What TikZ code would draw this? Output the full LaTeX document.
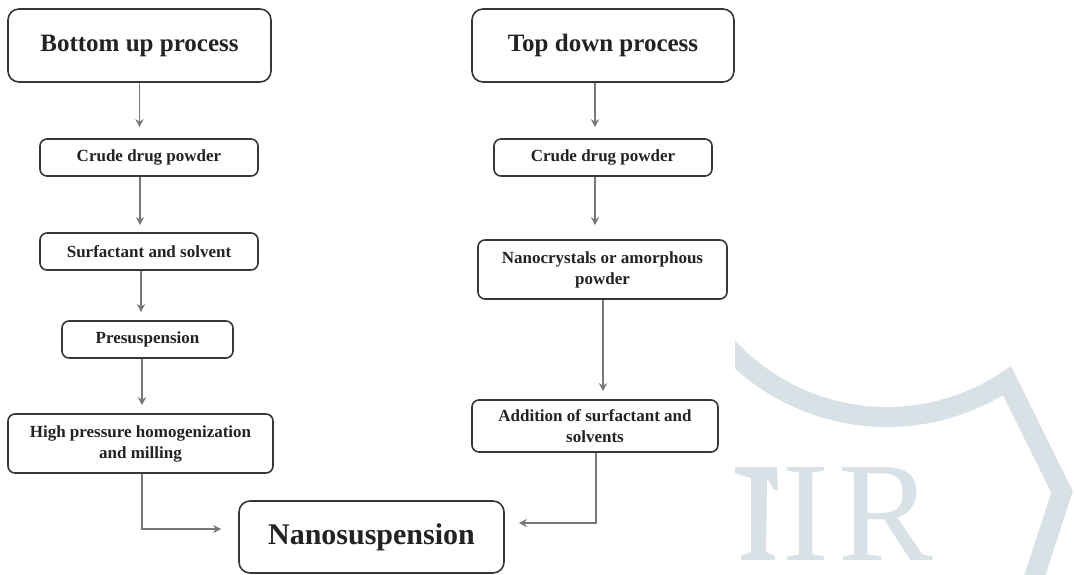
\documentclass[tikz,border=0pt]{standalone}
\usepackage{fontspec}
\setmainfont{Liberation Serif}
\usetikzlibrary{arrows.meta}
\definecolor{boxline}{RGB}{55,55,55}
\definecolor{arrline}{RGB}{120,120,120}
\definecolor{txt}{RGB}{35,35,35}
\definecolor{wm}{RGB}{216,225,229}
\begin{document}
\begin{tikzpicture}[x=1pt,y=-1pt,
  box/.style={draw=boxline, line width=1.6pt, rounded corners=7pt, fill=white, align=center,
    text=txt, inner sep=0pt, font=\bfseries\fontsize{17}{21}\selectfont},
  bigbox/.style={box, rounded corners=11pt, font=\bfseries\fontsize{25}{30}\selectfont},
  arr/.style={draw=arrline, line width=1.3pt, -{Stealth[length=8pt,width=8pt,inset=2.5pt]}},
  wmletter/.style={text=wm, inner sep=0pt, anchor=base, font=\fontsize{142}{142}\selectfont}
]
\useasboundingbox (0,0) rectangle (1074,574);
\fill[white] (0,0) rectangle (1074,574);
% watermark
\begin{scope}
\clip (735,270) rectangle (1074,574);
\draw[wm, line width=20pt, line join=miter]
  (887,200) ++(150:217) arc[start angle=150, end angle=56.4, radius=217]
  -- (1062,492) -- (1030,590);
\fill[wm] (715,467) -- (777,467) -- (778,490) -- (774,490) -- (767,478) -- (766,552)
  -- (775,556) -- (775,560) -- (741,560) -- (741,556) -- (751,552) -- (751,478) -- cycle;
\end{scope}
\node[wmletter] (wmi) at (806.5,560) {I};
\node[wmletter] (wmr) at (885.5,560) {R};
% left column
\node[bigbox, minimum width=263pt, minimum height=73pt] (bu) at (139.5,45.5) {Bottom up process};
\node[box, minimum width=218pt, minimum height=37pt] (cl) at (149,157.5) {Crude drug powder};
\node[box, minimum width=218pt, minimum height=37pt] (sl) at (149,251.5) {Surfactant and solvent};
\node[box, minimum width=171pt, minimum height=37pt] (ps) at (147.5,339.5) {Presuspension};
\node[box, minimum width=265pt, minimum height=59pt] (hp) at (140.5,443.5) {High pressure homogenization\\and milling};
% bottom
\node[bigbox, minimum width=265pt, minimum height=72pt, font=\bfseries\fontsize{30}{36}\selectfont] (ns) at (371.5,537) {Nanosuspension};
% right column
\node[bigbox, minimum width=262pt, minimum height=73pt] (td) at (603,45.5) {Top down process};
\node[box, minimum width=218pt, minimum height=37pt] (cr) at (603,157.5) {Crude drug powder};
\node[box, minimum width=249pt, minimum height=59pt] (nc) at (602.5,269.5) {Nanocrystals or amorphous\\powder};
\node[box, minimum width=246pt, minimum height=52pt] (ad) at (595,426) {Addition of surfactant and\\solvents};
% connectors left
\draw[arr, shorten >=11pt] (bu.south) -- (bu.south |- cl.north);
\draw[arr, shorten >=7pt] ([xshift=-9pt]cl.south) -- ([xshift=-9pt]cl.south |- sl.north);
\draw[arr, shorten >=8pt] ([xshift=-8pt]sl.south) -- ([xshift=-8pt]sl.south |- ps.north);
\draw[arr, shorten >=8pt] ([xshift=-5.5pt]ps.south) -- ([xshift=-5.5pt]ps.south |- hp.north);
\draw[arr] ([xshift=1.5pt]hp.south) |- ([xshift=-17pt,yshift=8pt]ns.west);
% connectors right
\draw[arr, shorten >=11pt] ([xshift=-8pt]td.south) -- ([xshift=-8pt]td.south |- cr.north);
\draw[arr, shorten >=14pt] ([xshift=-8pt]cr.south) -- ([xshift=-8pt]cr.south |- nc.north);
\draw[arr, shorten >=8pt] ([xshift=0.5pt]nc.south) -- ([xshift=0.5pt]nc.south |- ad.north);
\draw[arr] ([xshift=1pt]ad.south) |- ([xshift=14pt,yshift=14pt]ns.east);
\end{tikzpicture}
\end{document}
